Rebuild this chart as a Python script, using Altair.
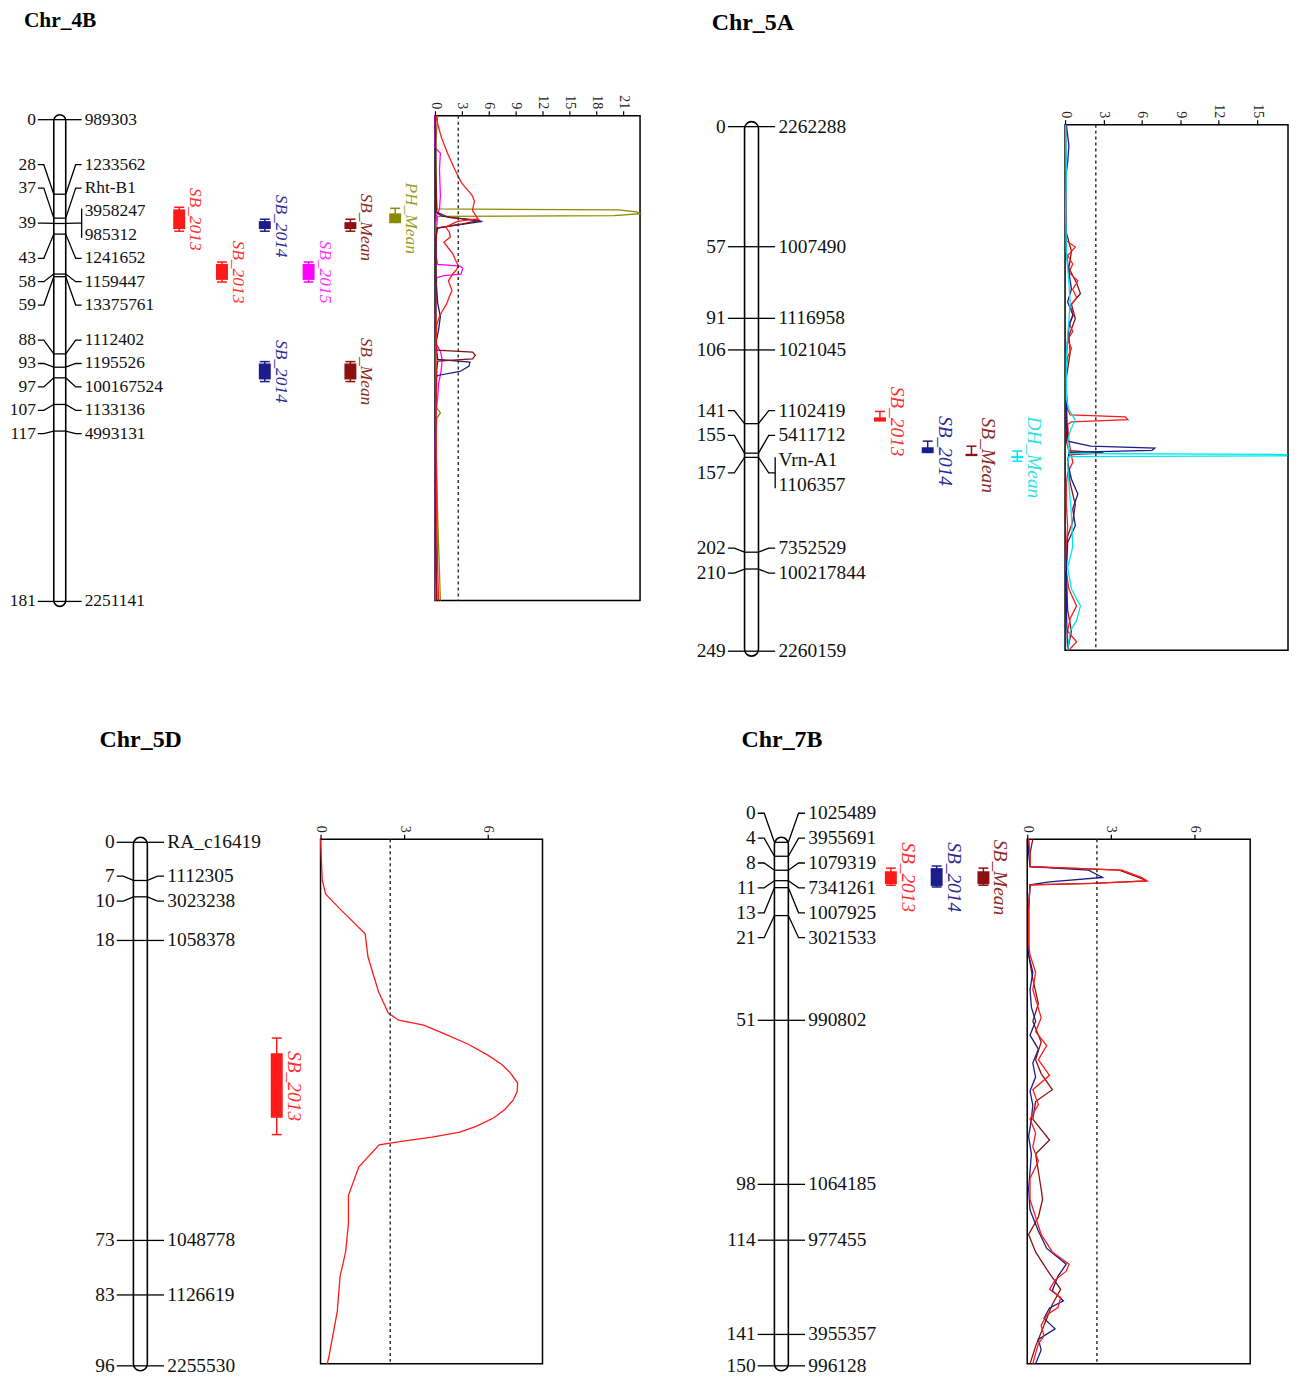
import altair as alt
import pandas as pd

# ======================= DATA =======================
# ---------- Chr_4B ----------
chr4B_cM = [0, 28, 37, 39, 39, 43, 58, 59, 88, 93, 97, 107, 117, 181]
chr4B_marker = ['989303', '1233562', 'Rht-B1', '3958247', '985312', '1241652',
                '1159447', '13375761', '1112402', '1195526', '100167524',
                '1133136', '4993131', '2251141']
qtl4B_trait = ['SB_2013', 'SB_2013', 'SB_2014', 'SB_2014', 'SB_2015', 'SB_Mean', 'SB_Mean', 'PH_Mean']
qtl4B_lane = [0, 1, 2, 2, 3, 4, 4, 5]
qtl4B_peak = [37.4, 57.2, 40.0, 94.6, 57.2, 40.4, 94.6, 37.0]
qtl4B_lo_out = [32.9, 53.5, 37.4, 90.9, 53.5, 37.4, 90.9, 33.3]
qtl4B_lo_in = [33.7, 54.2, 38.1, 91.6, 54.2, 38.5, 91.6, 35.2]
qtl4B_hi_in = [41.1, 60.2, 41.1, 97.6, 60.2, 41.1, 97.6, 38.9]
qtl4B_hi_out = [41.9, 61.0, 41.9, 98.4, 61.0, 41.9, 98.4, 38.9]
lod4B_threshold = 2.6
lod4B_PH_Mean_cM = [0, 10, 25, 34.8, 35.2, 35.9, 36.6, 37.3, 37.6, 45, 70, 100, 109, 111, 113, 120, 150, 181]
lod4B_PH_Mean = [0.3, 0.1, 0.1, 0.2, 20.5, 22.5, 22.9, 20.0, 0.3, 0.1, 0.1, 0.1, 0.2, 0.6, 0.2, 0.1, 0.3, 0.6]
lod4B_SB_2015_cM = [0, 12, 14, 20, 30, 35, 37, 40, 45, 52, 55.5, 56.2, 57, 59.2, 59.7, 60.5, 65, 75, 85, 88,
                    91, 95, 100, 105, 110, 120, 140, 160, 181]
lod4B_SB_2015 = [0, 0, 0.6, 0.5, 0.6, 0.5, 0.2, 0.1, 0.05, 0.1, 0.3, 2.8, 3.1, 2.9, 1.0, 0.2, 0.1, 0.05, 0.1, 0.6,
                 0.8, 0.7, 0.4, 0.3, 0.1, 0.05, 0.05, 0.05, 0.05]
lod4B_SB_2014_cM = [0, 20, 36, 37.5, 38.5, 39.5, 41, 42, 45, 60, 70, 75, 80, 85, 91, 92, 93.5, 95.5, 97, 98,
                    105, 120, 140, 160, 181]
lod4B_SB_2014 = [0.05, 0.05, 0.1, 0.8, 3.0, 5.3, 2.0, 0.3, 0.1, 0.1, 0.3, 0.6, 0.4, 0.1, 0.3, 3.9, 3.8, 2.8, 0.3, 0.1,
                 0.05, 0.05, 0.1, 0.1, 0.2]
lod4B_SB_Mean_cM = [0, 20, 36, 38, 39, 40.5, 42, 50, 70, 80, 87.5, 88.3, 89.5, 90.8, 91.6, 95, 110, 130, 160, 181]
lod4B_SB_Mean = [0.05, 0.1, 0.2, 1.5, 5.0, 3.0, 0.2, 0.1, 0.1, 0.1, 0.2, 4.2, 4.5, 4.2, 0.3, 0.2, 0.1, 0.1, 0.1, 0.2]
lod4B_SB_2013_cM = [0, 3, 8, 14, 20, 24.7, 26, 28, 30, 32, 33.5, 35.4, 37, 38.5, 39.5, 41.6, 43.5, 45.3, 47.3, 49.5,
                    51.6, 54, 56, 57.5, 59, 61.7, 63.5, 65.4, 67.5, 70.3, 73, 75, 78, 85, 95, 110, 130, 150, 170, 181]
lod4B_SB_2013 = [0.1, 0.3, 0.7, 1.4, 2.2, 2.9, 3.2, 3.7, 4.2, 4.4, 4.3, 4.2, 4.5, 4.8, 2.5, 1.2, 1.6, 1.7, 1.0, 1.5,
                 2.0, 2.3, 2.6, 2.4, 2.0, 1.5, 1.7, 1.9, 1.6, 1.3, 0.8, 0.5, 0.2, 0.1, 0.1, 0.1, 0.15, 0.2, 0.3, 0.4]

# ---------- Chr_5A ----------
chr5A_cM = [0, 57, 91, 106, 141, 155, 157, 157, 202, 210, 249]
chr5A_marker = ['2262288', '1007490', '1116958', '1021045', '1102419', '5411712', 'Vrn-A1',
                '1106357', '7352529', '100217844', '2260159']
qtl5A_trait = ['SB_2013', 'SB_2014', 'SB_Mean', 'DH_Mean']
qtl5A_lane = [0, 1, 2, 3]
qtl5A_peak = [140.0, 154.0, 156.0, 157.0]
qtl5A_lo_out = [135.2, 149.3, 151.7, 154.0]
qtl5A_lo_in = [138.0, 152.2, 155.3, 156.4]
qtl5A_hi_in = [140.0, 155.0, 156.4, 157.4]
qtl5A_hi_out = [140.0, 155.0, 156.4, 158.8]
lod5A_threshold = 2.4
lod5A_SB_2013_cM = [0, 30, 55, 58, 62, 66, 70, 74, 78, 82, 86, 90, 94, 98, 102, 106, 110, 115, 125, 135,
                    137.5, 138.5, 139.8, 140.8, 142, 150, 160, 165, 170, 180, 190, 200, 210, 220, 228, 234, 240, 245, 249]
lod5A_SB_2013 = [0.05, 0.05, 0.1, 0.8, 0.2, 0.6, 0.3, 1.0, 0.6, 0.9, 0.4, 0.7, 0.3, 0.6, 0.2, 0.5, 0.2, 0.1, 0.1, 0.2,
                 0.4, 4.7, 4.9, 0.5, 0.2, 0.3, 0.6, 0.2, 0.1, 0.1, 0.2, 0.1, 0.05, 0.3, 0.9, 0.4, 0.2, 0.9, 0.3]
lod5A_SB_2014_cM = [0, 10, 18, 25, 40, 60, 70, 78, 84, 90, 96, 102, 110, 130, 150, 152.3, 153.3, 154.3, 155.3, 160,
                    168, 175, 182, 190, 198, 210, 230, 249]
lod5A_SB_2014 = [0.1, 0.3, 0.2, 0.05, 0.05, 0.1, 0.3, 0.5, 0.2, 0.6, 0.3, 0.2, 0.1, 0.1, 0.2, 2.0, 7.0, 6.8, 0.3, 0.2,
                 0.5, 1.0, 0.6, 0.8, 0.2, 0.1, 0.1, 0.2]
lod5A_SB_Mean_cM = [0, 50, 60, 68, 75, 80, 85, 92, 100, 108, 120, 150, 154.5, 155.5, 156.5, 160, 170, 180, 188, 195,
                    210, 230, 240, 249]
lod5A_SB_Mean = [0.05, 0.05, 0.5, 0.3, 0.9, 1.2, 0.5, 0.8, 0.3, 0.4, 0.1, 0.1, 0.3, 3.0, 0.3, 0.2, 0.4, 0.8, 0.6, 0.2,
                 0.1, 0.2, 0.5, 0.2]
lod5A_DH_Mean_cM = [0, 20, 40, 60, 75, 85, 100, 110, 130, 135, 140, 145, 150, 155.8, 156.3, 156.9, 157.3, 160, 170, 185,
                    200, 210, 220, 228, 235, 240, 249]
lod5A_DH_Mean = [0.05, 0.1, 0.05, 0.1, 0.3, 0.4, 0.2, 0.1, 0.1, 0.3, 0.8, 0.4, 0.2, 0.3, 17.3, 17.3, 0.3, 0.2, 0.3, 0.5,
                 0.6, 0.2, 0.5, 1.2, 0.9, 0.4, 0.2]

# ---------- Chr_5D ----------
chr5D_cM = [0, 7, 10, 18, 73, 83, 96]
chr5D_marker = ['RA_c16419', '1112305', '3023238', '1058378', '1048778', '1126619', '2255530']
qtl5D_trait = ['SB_2013']
qtl5D_lane = [0]
qtl5D_peak = [44.7]
qtl5D_lo_out = [35.9]
qtl5D_lo_in = [38.7]
qtl5D_hi_in = [50.5]
qtl5D_hi_out = [53.6]
lod5D_threshold = 2.5
lod5D_SB_2013_cM = [0, 7.4, 10, 12.5, 17.3, 21.5, 27.9, 31.8, 33.1, 34, 35.6, 37.5, 39.5, 41.2, 42.7, 44.6, 46.2,
                    47.8, 49.5, 51, 52.5, 53.6, 54.5, 55.3, 55.9, 60, 65.2, 70.3, 75.5, 80, 86.4, 94.7, 96]
lod5D_SB_2013 = [0, 0.06, 0.18, 0.65, 1.6, 1.7, 2.08, 2.43, 2.8, 3.7, 4.45, 5.3, 6.0, 6.5, 6.8, 7.07, 7.05,
                 6.9, 6.6, 6.2, 5.6, 5.0, 4.0, 2.9, 2.1, 1.37, 1.0, 1.0, 0.9, 0.7, 0.6, 0.3, 0.24]

# ---------- Chr_7B ----------
chr7B_cM = [0, 4, 8, 11, 13, 21, 51, 98, 114, 141, 150]
chr7B_marker = ['1025489', '3955691', '1079319', '7341261', '1007925', '3021533', '990802',
                '1064185', '977455', '3955357', '996128']
qtl7B_trait = ['SB_2013', 'SB_2014', 'SB_Mean']
qtl7B_lane = [0, 1, 2]
qtl7B_peak = [10.0, 10.0, 10.1]
qtl7B_lo_out = [7.4, 6.8, 7.4]
qtl7B_lo_in = [8.3, 7.4, 8.3]
qtl7B_hi_in = [12.0, 12.5, 12.0]
qtl7B_hi_out = [12.3, 12.8, 12.3]
lod7B_threshold = 2.5
lod7B_SB_Mean_cM = [0, 4, 7.8, 8.8, 10.9, 11.9, 12.6, 13, 20, 33, 40, 47, 52, 58, 63, 67, 71.6, 75, 80, 86,
                    90, 95, 100, 103, 108, 113, 118, 123, 128.7, 133, 137, 141, 145, 150]
lod7B_SB_Mean = [0.2, 0.1, 0.1, 3.3, 4.0, 4.3, 2.3, 0.1, 0.05, 0.05, 0.2, 0.4, 0.2, 0.5, 0.3, 0.5, 0.9, 0.3, 0.2, 0.8,
                 0.3, 0.4, 0.5, 0.55, 0.4, 0.05, 0.3, 0.7, 1.2, 0.9, 0.7, 0.5, 0.3, 0.1]
lod7B_SB_2014_cM = [0, 4, 7.8, 8.8, 10.9, 12.2, 13, 20, 33, 38, 43, 48, 52, 56, 60, 64, 68, 72, 76, 80,
                    85, 90, 95, 100, 106, 112, 117, 121.5, 125, 129, 132, 134, 137, 140, 143, 146, 150]
lod7B_SB_2014 = [0.05, 0.05, 0.1, 2.2, 2.7, 0.8, 0.1, 0.05, 0.05, 0.2, 0.1, 0.15, 0.3, 0.1, 0.4, 0.2, 0.3, 0.1, 0.2, 0.15,
                 0.05, 0.15, 0.1, 0.05, 0.1, 0.4, 0.7, 1.4, 1.1, 0.9, 1.3, 0.8, 0.6, 1.0, 0.4, 0.5, 0.3]
lod7B_SB_2013_cM = [0, 4, 7.8, 8.8, 10.9, 11.9, 12.6, 13, 20, 30, 33, 38, 43, 47, 51, 55, 59, 63, 67.5, 71.6,
                    75.8, 80, 84, 88, 92, 97, 103, 108, 113, 118, 121.5, 123.5, 126, 128.7, 131, 133.9, 136, 139,
                    142, 144.3, 147, 150]
lod7B_SB_2013 = [0.05, 0.1, 0.1, 3.4, 4.1, 4.3, 2.4, 0.1, 0.05, 0.05, 0.1, 0.3, 0.2, 0.35, 0.5, 0.3, 0.7, 0.4, 0.8, 0.2,
                 0.4, 0.1, 0.3, 0.2, 0.4, 0.1, 0.1, 0.3, 0.5, 0.9, 1.5, 1.4, 1.0, 0.8, 1.2, 1.1, 0.7, 0.5,
                 0.6, 0.4, 0.3, 0.2]

# ======================= STYLE / LAYOUT =======================
W, H = 1288, 1367
OFF = 8
FONT = 'Liberation Serif'
LINE_COLOR = {'SB_2013': '#ff1a1a', 'SB_2014': '#1c1c8a', 'SB_2015': '#ff00ff',
              'SB_Mean': '#8b1010', 'PH_Mean': '#8a8a00', 'DH_Mean': '#00e6f0'}
TEXT_COLOR = {'SB_2013': '#ff3030', 'SB_2014': '#2c2c96', 'SB_2015': '#ff30ff',
              'SB_Mean': '#8e2a24', 'PH_Mean': '#9c9c1c', 'DH_Mean': '#30dfe6'}

PANELS = [
    dict(name='Chr_4B', title=(24, 18), tfs=21.5, cx=60, hw=6, k=1.0, fs=17.5, gap=23.5, y0=117, y1=601,
         lx0=437, lx1=643, lmax=22.9, ly0=113, ly1=600, ticks=[0, 3, 6, 9, 12, 15, 18, 21],
         lanes=[180, 223, 266, 310, 352, 397],
         pos=chr4B_cM, names=chr4B_marker,
         qtl=(qtl4B_trait, qtl4B_lane, qtl4B_peak, qtl4B_lo_out, qtl4B_lo_in, qtl4B_hi_in, qtl4B_hi_out),
         thr=lod4B_threshold,
         lods=[('PH_Mean', lod4B_PH_Mean_cM, lod4B_PH_Mean), ('SB_2015', lod4B_SB_2015_cM, lod4B_SB_2015),
               ('SB_2014', lod4B_SB_2014_cM, lod4B_SB_2014), ('SB_Mean', lod4B_SB_Mean_cM, lod4B_SB_Mean),
               ('SB_2013', lod4B_SB_2013_cM, lod4B_SB_2013)]),
    dict(name='Chr_5A', title=(715, 20), tfs=24, cx=755, hw=7, k=1.08, fs=19.5, gap=25, y0=124, y1=651,
         lx0=1070, lx1=1294, lmax=17.4, ly0=122, ly1=650, ticks=[0, 3, 6, 9, 12, 15],
         lanes=[884, 932, 976, 1022],
         pos=chr5A_cM, names=chr5A_marker,
         qtl=(qtl5A_trait, qtl5A_lane, qtl5A_peak, qtl5A_lo_out, qtl5A_lo_in, qtl5A_hi_in, qtl5A_hi_out),
         thr=lod5A_threshold,
         lods=[('SB_Mean', lod5A_SB_Mean_cM, lod5A_SB_Mean), ('SB_2013', lod5A_SB_2013_cM, lod5A_SB_2013),
               ('SB_2014', lod5A_SB_2014_cM, lod5A_SB_2014), ('DH_Mean', lod5A_DH_Mean_cM, lod5A_DH_Mean)]),
    dict(name='Chr_5D', title=(100, 740), tfs=24, cx=141, hw=7, k=1.08, fs=19.5, gap=25, y0=843, y1=1369,
         lx0=322, lx1=545, lmax=7.96, ly0=840, ly1=1367, ticks=[0, 3, 6],
         lanes=[278],
         pos=chr5D_cM, names=chr5D_marker,
         qtl=(qtl5D_trait, qtl5D_lane, qtl5D_peak, qtl5D_lo_out, qtl5D_lo_in, qtl5D_hi_in, qtl5D_hi_out),
         thr=lod5D_threshold,
         lods=[('SB_2013', lod5D_SB_2013_cM, lod5D_SB_2013)]),
    dict(name='Chr_7B', title=(745, 740), tfs=24, cx=785, hw=7, k=1.08, fs=19.5, gap=25, y0=843, y1=1369,
         lx0=1032, lx1=1256, lmax=8.0, ly0=840, ly1=1367, ticks=[0, 3, 6],
         lanes=[895, 941, 988],
         pos=chr7B_cM, names=chr7B_marker,
         qtl=(qtl7B_trait, qtl7B_lane, qtl7B_peak, qtl7B_lo_out, qtl7B_lo_in, qtl7B_hi_in, qtl7B_hi_out),
         thr=lod7B_threshold,
         lods=[('SB_Mean', lod7B_SB_Mean_cM, lod7B_SB_Mean), ('SB_2014', lod7B_SB_2014_cM, lod7B_SB_2014),
               ('SB_2013', lod7B_SB_2013_cM, lod7B_SB_2013)]),
]

PX = alt.Scale(domain=[0, W], range=[0, W], nice=False, zero=False)


def spread(ideal, gap):
    """Spread label positions so that they are at least `gap` apart."""
    cl = [[v] for v in ideal]

    def span(c):
        m = sum(c) / len(c)
        s = m - gap * (len(c) - 1) / 2
        return s, s + gap * (len(c) - 1)

    again = True
    while again:
        again = False
        for i in range(len(cl) - 1):
            if span(cl[i + 1])[0] - span(cl[i])[1] < gap - 1e-6:
                cl[i] = cl[i] + cl.pop(i + 1)
                again = True
                break
    out = []
    for c in cl:
        s = span(c)[0]
        out += [s + gap * j for j in range(len(c))]
    return out


def build_panel(p):
    layers = []
    pos, names = p['pos'], p['names']
    L = max(pos)
    y0, y1 = p['y0'], p['y1']
    ppc = (y1 - y0) / L
    lab = [(v - y0) / ppc for v in spread([y0 + q * ppc for q in pos], p['gap'])]
    cx, hw, k, fs = p['cx'] - OFF, p['hw'], p['k'], p['fs']
    YS = alt.Scale(domain=[0, L], range=[y0 - OFF, y1 - OFF], nice=False, zero=False)
    X = lambda f: alt.X(f, type='quantitative', scale=PX, axis=None)
    Y = lambda f: alt.Y(f, type='quantitative', scale=YS, axis=None)

    # title
    layers.append(alt.Chart(pd.DataFrame({'t': [p['name']]})).mark_text(
        align='left', baseline='middle', font=FONT, fontSize=p['tfs'], fontWeight='bold', color='black'
    ).encode(x=alt.value(p['title'][0] - OFF), y=alt.value(p['title'][1] - OFF), text='t:N'))

    # chromosome body
    layers.append(alt.Chart(pd.DataFrame({'a': [cx - hw], 'b': [cx + hw], 'c': [0], 'd': [L]})).mark_rect(
        fill='white', stroke='black', strokeWidth=1.6, cornerRadius=hw, yOffset=-5, y2Offset=5
    ).encode(x=X('a'), x2='b', y=Y('c'), y2='d'))

    groups = []
    for i, q in enumerate(pos):
        if groups and groups[-1][0] == q:
            groups[-1][1].append(i)
        else:
            groups.append((q, [i]))
    seg, cross, left, right, brk = [], [], [], [], []
    for gi, (q, idx) in enumerate(groups):
        ly = sum(lab[i] for i in idx) / len(idx)
        for o, (xx, yy) in enumerate([(cx - 22 * k, ly), (cx - 16 * k, ly), (cx - hw, q)]):
            seg.append(dict(s=f'L{gi}', o=o, x=xx, y=yy))
        for o, (xx, yy) in enumerate([(cx + hw, q), (cx + 16 * k, ly), (cx + 22 * k, ly)]):
            seg.append(dict(s=f'R{gi}', o=o, x=xx, y=yy))
        cross.append(dict(x=cx - hw, x2=cx + hw, y=q))
        left.append(dict(x=cx - 24 * k, y=ly, t=str(q)))
        for i in idx:
            right.append(dict(x=cx + 25 * k, y=lab[i], t=names[i]))
        if len(idx) > 1:
            brk.append(dict(x=cx + 22 * k, y=min(lab[i] for i in idx) - 3 / ppc,
                            y2=max(lab[i] for i in idx) + 3 / ppc))

    layers.append(alt.Chart(pd.DataFrame(cross)).mark_rule(color='black', strokeWidth=1.3).encode(
        x=X('x'), x2='x2', y=Y('y')))
    layers.append(alt.Chart(pd.DataFrame(seg)).mark_line(color='black', strokeWidth=1.3).encode(
        x=X('x'), y=Y('y'), detail='s:N', order='o:Q'))
    if brk:
        layers.append(alt.Chart(pd.DataFrame(brk)).mark_rule(color='black', strokeWidth=1.3).encode(
            x=X('x'), y=Y('y'), y2='y2'))
    layers.append(alt.Chart(pd.DataFrame(left)).mark_text(
        align='right', baseline='middle', font=FONT, fontSize=fs, color='#111').encode(
        x=X('x'), y=Y('y'), text='t:N'))
    layers.append(alt.Chart(pd.DataFrame(right)).mark_text(
        align='left', baseline='middle', font=FONT, fontSize=fs, color='#111').encode(
        x=X('x'), y=Y('y'), text='t:N'))

    # QTL intervals
    tr, lane, pk, lo_o, lo_i, hi_i, hi_o = p['qtl']
    qx = [p['lanes'][l] - OFF for l in lane]
    qdf = pd.DataFrame(dict(trait=tr, x=qx, peak=pk, lo_o=lo_o, lo_i=lo_i, hi_i=hi_i, hi_o=hi_o))
    qdf['c'] = [LINE_COLOR[t] for t in tr]
    qdf['tc'] = [TEXT_COLOR[t] for t in tr]
    qdf['xa'] = qdf['x'] - 6
    qdf['xb'] = qdf['x'] + 6
    qdf['ca'] = qdf['x'] - 5
    qdf['cb'] = qdf['x'] + 5
    qdf['xt'] = qdf['x'] + 7
    col = alt.Color('c:N', scale=None)
    layers.append(alt.Chart(qdf).mark_rule(strokeWidth=1.5).encode(
        x=X('x'), y=Y('lo_o'), y2='hi_o', color=col))
    cap_lo = qdf[qdf['lo_i'] - qdf['lo_o'] > 0.3]
    cap_hi = qdf[qdf['hi_o'] - qdf['hi_i'] > 0.3]
    if len(cap_lo):
        layers.append(alt.Chart(cap_lo).mark_rule(strokeWidth=1.5).encode(
            x=X('ca'), x2='cb', y=Y('lo_o'), color=col))
    if len(cap_hi):
        layers.append(alt.Chart(cap_hi).mark_rule(strokeWidth=1.5).encode(
            x=X('ca'), x2='cb', y=Y('hi_o'), color=col))
    layers.append(alt.Chart(qdf).mark_rect().encode(
        x=X('xa'), x2='xb', y=Y('lo_i'), y2='hi_i', color=col))
    layers.append(alt.Chart(qdf).mark_text(
        angle=90, align='center', baseline='bottom', font=FONT, fontSize=fs, fontStyle='italic').encode(
        x=X('xt'), y=Y('peak'), text='trait:N', color=alt.Color('tc:N', scale=None)))

    # LOD profile
    LX = alt.Scale(domain=[0, p['lmax']], range=[p['lx0'] - OFF, p['lx1'] - OFF], nice=False, zero=False)
    LY = alt.Scale(domain=[0, L], range=[p['ly0'] - OFF, p['ly1'] - OFF], nice=False, zero=False)
    box = pd.DataFrame({'a': [0], 'b': [p['lmax']], 'c': [0], 'd': [L]})
    layers.append(alt.Chart(box).mark_rect(fillOpacity=0, stroke='black', strokeWidth=1.5).encode(
        x=alt.X('a:Q', scale=LX, axis=alt.Axis(
            orient='top', offset=-(p['ly0'] - OFF), values=p['ticks'], labelAngle=90,
            labelAlign='right', labelBaseline='middle', domain=False, ticks=True, tickSize=5,
            tickColor='black', tickWidth=1.2, labelFont=FONT, labelFontSize=14, labelColor='#222',
            labelPadding=2, grid=False, title=None, labelFlush=False, labelOverlap=False)),
        x2='b', y=alt.Y('c:Q', scale=LY, axis=None), y2='d'))
    for t, cms, vals in p['lods']:
        ldf = pd.DataFrame({'cm': cms, 'lod': vals})
        ldf['i'] = range(len(ldf))
        layers.append(alt.Chart(ldf).mark_line(strokeWidth=1.3, color=LINE_COLOR[t]).encode(
            x=alt.X('lod:Q', scale=LX, axis=None), y=alt.Y('cm:Q', scale=LY, axis=None), order='i:Q'))
    thr = pd.DataFrame({'t': [p['thr']], 'c': [0], 'd': [L]})
    layers.append(alt.Chart(thr).mark_rule(strokeDash=[3, 3], color='#333', strokeWidth=1.5).encode(
        x=alt.X('t:Q', scale=LX, axis=None), y=alt.Y('c:Q', scale=LY, axis=None), y2='d'))
    return layers


all_layers = []
for panel in PANELS:
    all_layers += build_panel(panel)

chart = alt.layer(*all_layers).resolve_scale(
    x='independent', y='independent'
).resolve_axis(
    x='independent', y='independent'
).properties(
    width=W, height=H, padding=0, autosize=alt.AutoSizeParams(type='none')
).configure_view(strokeWidth=0)

chart.save("out.html", embed_options={"renderer": "svg", "actions": False})
